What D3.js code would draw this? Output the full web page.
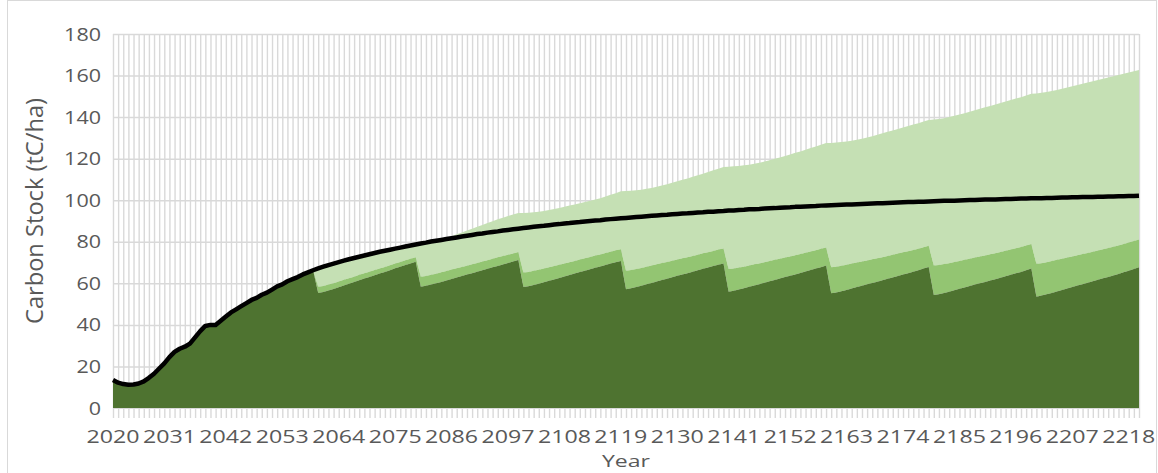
<!DOCTYPE html>
<html>
<head>
<meta charset="utf-8">
<script src="https://cdn.jsdelivr.net/npm/d3@7"></script>
<style>
    body { margin: 0; background: #ffffff; }
    text { font-family: "Open Sans", sans-serif; fill: #595959; }
</style>
</head>
<body>
<svg id="chart" width="1158" height="473"></svg>
<script>

// Category axis: one point per year
const years = d3.range(2020, 2221);

// Labels shown under the axis (every 11th year)
const xTickLabels = [2020, 2031, 2042, 2053, 2064, 2075, 2086, 2097, 2108, 2119,
    2130, 2141, 2152, 2163, 2174, 2185, 2196, 2207, 2218];

const yTicks = [0, 20, 40, 60, 80, 100, 120, 140, 160, 180];

// No-harvest reference (black line), tC/ha
const noHarvest = [
    13.5, 12.2, 11.5, 11.2, 11.3, 11.8, 12.8, 14.5, 16.5, 19.0,
    21.5, 24.5, 27.0, 28.5, 29.5, 31.0, 34.0, 37.0, 39.5, 40.0,
    40.0, 42.0, 44.0, 46.0, 47.5, 49.0, 50.5, 52.0, 53.0, 54.5,
    55.5, 57.0, 58.5, 59.5, 61.0, 62.0, 63.0, 64.3, 65.3, 66.3,
    67.2, 68.0, 68.8, 69.5, 70.2, 70.9, 71.6, 72.2, 72.8, 73.4,
    74.0, 74.6, 75.2, 75.7, 76.2, 76.7, 77.2, 77.7, 78.2, 78.7,
    79.2, 79.6, 80.1, 80.5, 80.9, 81.3, 81.7, 82.1, 82.5, 82.9,
    83.3, 83.7, 84.0, 84.4, 84.7, 85.0, 85.4, 85.7, 86.0, 86.3,
    86.6, 86.9, 87.2, 87.5, 87.7, 88.0, 88.3, 88.5, 88.8, 89.0,
    89.3, 89.5, 89.8, 90.0, 90.2, 90.4, 90.7, 90.9, 91.1, 91.3,
    91.5, 91.7, 91.9, 92.1, 92.3, 92.5, 92.7, 92.9, 93.0, 93.2,
    93.4, 93.6, 93.7, 93.9, 94.1, 94.2, 94.4, 94.5, 94.7, 94.8,
    95.0, 95.1, 95.3, 95.4, 95.6, 95.7, 95.8, 96.0, 96.1, 96.2,
    96.4, 96.5, 96.6, 96.8, 96.9, 97.0, 97.1, 97.2, 97.4, 97.5,
    97.6, 97.7, 97.8, 97.9, 98.0, 98.1, 98.2, 98.3, 98.4, 98.5,
    98.6, 98.7, 98.8, 98.9, 99.0, 99.1, 99.2, 99.3, 99.3, 99.4,
    99.5, 99.6, 99.7, 99.8, 99.8, 99.9, 100.0, 100.1, 100.1, 100.2,
    100.3, 100.4, 100.4, 100.5, 100.6, 100.6, 100.7, 100.8, 100.8, 100.9,
    101.0, 101.0, 101.1, 101.1, 101.2, 101.3, 101.3, 101.4, 101.4, 101.5,
    101.6, 101.6, 101.7, 101.7, 101.8, 101.8, 101.9, 101.9, 102.0, 102.0,
    102.1
];

// Standing stock under 20-year harvest cycle (dark green)
const standStock = [
    13.5, 12.2, 11.5, 11.2, 11.3, 11.8, 12.8, 14.5, 16.5, 19.0,
    21.5, 24.5, 27.0, 28.5, 29.5, 31.0, 34.0, 37.0, 39.5, 40.0,
    40.0, 42.0, 44.0, 46.0, 47.5, 49.0, 50.5, 52.0, 53.0, 54.5,
    55.5, 57.0, 58.5, 59.5, 61.0, 62.0, 63.0, 64.3, 65.3, 66.3,
    55.3, 55.8, 56.5, 57.3, 58.1, 59.0, 59.8, 60.6, 61.5, 62.3,
    63.1, 63.9, 64.7, 65.5, 66.3, 67.2, 68.0, 68.8, 69.6, 70.4,
    58.4, 58.8, 59.4, 60.0, 60.7, 61.4, 62.1, 62.8, 63.5, 64.2,
    64.9, 65.6, 66.3, 67.0, 67.7, 68.4, 69.1, 69.8, 70.5, 71.2,
    58.2, 58.6, 59.2, 59.8, 60.5, 61.2, 61.9, 62.6, 63.3, 64.0,
    64.7, 65.4, 66.1, 66.8, 67.5, 68.1, 68.8, 69.5, 70.2, 70.8,
    57.2, 57.6, 58.2, 58.8, 59.5, 60.2, 60.9, 61.6, 62.2, 62.9,
    63.6, 64.3, 64.9, 65.6, 66.3, 67.0, 67.6, 68.3, 69.0, 69.6,
    56.0, 56.4, 57.0, 57.6, 58.3, 59.0, 59.6, 60.3, 61.0, 61.6,
    62.3, 63.0, 63.6, 64.3, 65.0, 65.7, 66.4, 67.1, 67.8, 68.6,
    55.2, 55.6, 56.2, 56.8, 57.5, 58.2, 58.8, 59.5, 60.2, 60.8,
    61.5, 62.2, 62.8, 63.5, 64.2, 64.9, 65.6, 66.3, 67.1, 67.9,
    54.4, 54.8, 55.4, 56.0, 56.7, 57.4, 58.0, 58.7, 59.4, 60.0,
    60.7, 61.4, 62.0, 62.7, 63.4, 64.1, 64.8, 65.5, 66.3, 67.1,
    53.6, 54.1, 54.7, 55.4, 56.1, 56.8, 57.5, 58.2, 58.9, 59.6,
    60.3, 61.0, 61.7, 62.4, 63.1, 63.8, 64.5, 65.3, 66.1, 66.9,
    67.7
];

// Carbon in harvested products (medium green band)
const productStock = [
    0, 0, 0, 0, 0, 0, 0, 0, 0, 0,
    0, 0, 0, 0, 0, 0, 0, 0, 0, 0,
    0, 0, 0, 0, 0, 0, 0, 0, 0, 0,
    0, 0, 0, 0, 0, 0, 0, 0, 0, 0,
    3.0, 2.9, 2.9, 2.8, 2.8, 2.7, 2.7, 2.6, 2.6, 2.5,
    2.5, 2.5, 2.4, 2.4, 2.4, 2.3, 2.3, 2.3, 2.2, 2.2,
    4.8, 4.7, 4.7, 4.6, 4.6, 4.5, 4.5, 4.4, 4.4, 4.3,
    4.3, 4.2, 4.2, 4.1, 4.1, 4.1, 4.0, 4.0, 3.9, 3.9,
    7.0, 6.9, 6.8, 6.7, 6.6, 6.5, 6.4, 6.4, 6.3, 6.2,
    6.1, 6.1, 6.0, 5.9, 5.9, 5.8, 5.8, 5.7, 5.7, 5.6,
    8.9, 8.8, 8.7, 8.6, 8.5, 8.4, 8.3, 8.2, 8.1, 8.0,
    7.9, 7.8, 7.7, 7.6, 7.5, 7.5, 7.4, 7.3, 7.3, 7.2,
    10.9, 10.7, 10.6, 10.4, 10.3, 10.2, 10.0, 9.9, 9.8, 9.7,
    9.5, 9.4, 9.3, 9.2, 9.1, 9.0, 8.9, 8.8, 8.8, 8.7,
    12.6, 12.4, 12.3, 12.1, 12.0, 11.8, 11.7, 11.5, 11.4, 11.3,
    11.1, 11.0, 10.9, 10.8, 10.7, 10.6, 10.5, 10.4, 10.3, 10.2,
    14.2, 14.0, 13.9, 13.7, 13.6, 13.4, 13.3, 13.1, 13.0, 12.9,
    12.7, 12.6, 12.5, 12.4, 12.3, 12.2, 12.1, 12.0, 11.9, 11.8,
    15.8, 15.6, 15.5, 15.3, 15.2, 15.0, 14.9, 14.7, 14.6, 14.5,
    14.3, 14.2, 14.1, 14.0, 13.9, 13.8, 13.7, 13.6, 13.5, 13.5,
    13.4
];

// Top of the stack incl. substitution (light green), tC/ha
const totalStock = [
    13.5, 12.2, 11.5, 11.2, 11.3, 11.8, 12.8, 14.5, 16.5, 19.0,
    21.5, 24.5, 27.0, 28.5, 29.5, 31.0, 34.0, 37.0, 39.5, 40.0,
    40.0, 42.0, 44.0, 46.0, 47.5, 49.0, 50.5, 52.0, 53.0, 54.5,
    55.5, 57.0, 58.5, 59.5, 61.0, 62.0, 63.0, 64.3, 65.3, 66.3,
    67.0, 67.8, 68.6, 69.3, 70.0, 70.7, 71.4, 72.0, 72.6, 73.2,
    73.8, 74.4, 75.0, 75.5, 76.0, 76.5, 77.0, 77.5, 78.0, 78.5,
    79.0, 79.3, 79.7, 80.2, 80.9, 81.7, 82.7, 83.6, 84.5, 85.4,
    86.3, 87.2, 88.1, 89.0, 89.9, 90.8, 91.6, 92.4, 93.1, 93.8,
    93.9, 94.0, 94.2, 94.4, 94.8, 95.3, 95.8, 96.3, 96.8, 97.4,
    98.0, 98.6, 99.2, 99.8, 100.4, 101.0, 101.8, 102.6, 103.4, 104.3,
    104.4, 104.6, 104.8, 105.1, 105.5, 105.9, 106.5, 107.1, 107.7, 108.4,
    109.1, 109.8, 110.5, 111.3, 112.0, 112.8, 113.6, 114.4, 115.2, 116.0,
    116.1, 116.3, 116.5, 116.8, 117.1, 117.5, 118.0, 118.6, 119.2, 119.9,
    120.6, 121.3, 122.0, 122.8, 123.5, 124.3, 125.1, 125.9, 126.7, 127.5,
    127.6, 127.8, 128.0, 128.3, 128.6, 129.1, 129.6, 130.2, 130.8, 131.5,
    132.2, 132.9, 133.6, 134.3, 135.0, 135.7, 136.4, 137.1, 137.9, 138.6,
    138.8, 139.1, 139.5, 140.0, 140.6, 141.2, 141.9, 142.6, 143.3, 144.0,
    144.7, 145.4, 146.1, 146.8, 147.5, 148.2, 148.9, 149.6, 150.4, 151.2,
    151.4, 151.7, 152.1, 152.6, 153.1, 153.7, 154.3, 154.9, 155.5, 156.1,
    156.7, 157.3, 157.9, 158.5, 159.1, 159.7, 160.3, 160.9, 161.5, 162.1,
    162.7
];


// Plot area edges in pixels
const plot = { left: 113, right: 1139, top: 34, bottom: 408 };

const svg = d3.select("#chart");

// Chart area border
svg.append("rect")
    .attr("x", 7.5)
    .attr("y", 0.5)
    .attr("width", 1149)
    .attr("height", 490)
    .attr("fill", "none")
    .attr("stroke", "#d9d9d9");

const x = d3.scaleLinear()
    .domain([years[0], years[years.length - 1]])
    .range([plot.left, plot.right]);

const y = d3.scaleLinear()
    .domain([0, 180])
    .range([plot.bottom, plot.top]);

// Vertical gridlines, one per year
svg.append("g")
    .attr("class", "xgrid")
    .attr("transform", "translate(0," + plot.bottom + ")")
    .call(d3.axisBottom(x)
        .tickValues(years)
        .tickSize(-(plot.bottom - plot.top))
        .tickFormat(""))
    .call(g => g.select(".domain").remove())
    .call(g => g.selectAll("line").attr("stroke", "#d9d9d9").attr("stroke-width", 1.4));

// Horizontal gridlines
svg.append("g")
    .attr("class", "ygrid")
    .attr("transform", "translate(" + plot.left + ",0)")
    .call(d3.axisLeft(y)
        .tickValues(yTicks.slice(1))
        .tickSize(-(plot.right - plot.left))
        .tickFormat(""))
    .call(g => g.select(".domain").remove())
    .call(g => g.selectAll("line").attr("stroke", "#d9d9d9").attr("stroke-width", 1.5));

// Stacked areas
const stackArea = (lower, upper) => d3.area()
    .x((d, i) => x(years[i]))
    .y0((d, i) => y(lower(i)))
    .y1((d, i) => y(upper(i)));

svg.append("path")
    .datum(years)
    .attr("fill", "#c5e0b4")
    .attr("d", stackArea(i => standStock[i] + productStock[i], i => totalStock[i]));

svg.append("path")
    .datum(years)
    .attr("fill", "#93c572")
    .attr("d", stackArea(i => standStock[i], i => standStock[i] + productStock[i]));

svg.append("path")
    .datum(years)
    .attr("fill", "#4e7330")
    .attr("d", stackArea(i => 0, i => standStock[i]));

// No-harvest line
svg.append("path")
    .datum(noHarvest)
    .attr("fill", "none")
    .attr("stroke", "#000000")
    .attr("stroke-width", 4.5)
    .attr("stroke-linejoin", "round")
    .attr("d", d3.line()
        .x((d, i) => x(years[i]))
        .y(d => y(d)));

// X axis line and year tick marks
svg.append("g")
    .attr("class", "xaxis")
    .attr("transform", "translate(0," + plot.bottom + ")")
    .call(d3.axisBottom(x)
        .tickValues(years)
        .tickSize(10)
        .tickSizeOuter(0)
        .tickFormat(""))
    .call(g => g.select(".domain").attr("stroke", "#d9d9d9"))
    .call(g => g.selectAll(".tick line").attr("stroke", "#d9d9d9").attr("stroke-width", 1.4));

// Year labels (the original text is stretched horizontally)
svg.append("g")
    .selectAll("text")
    .data(xTickLabels)
    .enter()
    .append("text")
    .attr("x", d => x(d))
    .attr("y", 442.5)
    .attr("text-anchor", "middle")
    .attr("font-size", 17.5)
    .attr("textLength", 53)
    .attr("lengthAdjust", "spacingAndGlyphs")
    .text(d => d);

// Value labels
svg.append("g")
    .selectAll("text")
    .data(yTicks)
    .enter()
    .append("text")
    .attr("x", 101)
    .attr("y", d => y(d) + 6.5)
    .attr("text-anchor", "end")
    .attr("font-size", 18)
    .attr("textLength", d => String(d).length * 12.3)
    .attr("lengthAdjust", "spacingAndGlyphs")
    .text(d => d);

// Axis titles
svg.append("text")
    .attr("transform", "translate(43,211) rotate(-90) scale(1,1.37)")
    .attr("text-anchor", "middle")
    .attr("font-size", 17.5)
    .attr("textLength", 226)
    .attr("lengthAdjust", "spacingAndGlyphs")
    .text("Carbon Stock (tC/ha)");

svg.append("text")
    .attr("x", (plot.left + plot.right) / 2)
    .attr("y", 467)
    .attr("text-anchor", "middle")
    .attr("font-size", 17)
    .attr("textLength", 48)
    .attr("lengthAdjust", "spacingAndGlyphs")
    .text("Year");

</script>
</body>
</html>
